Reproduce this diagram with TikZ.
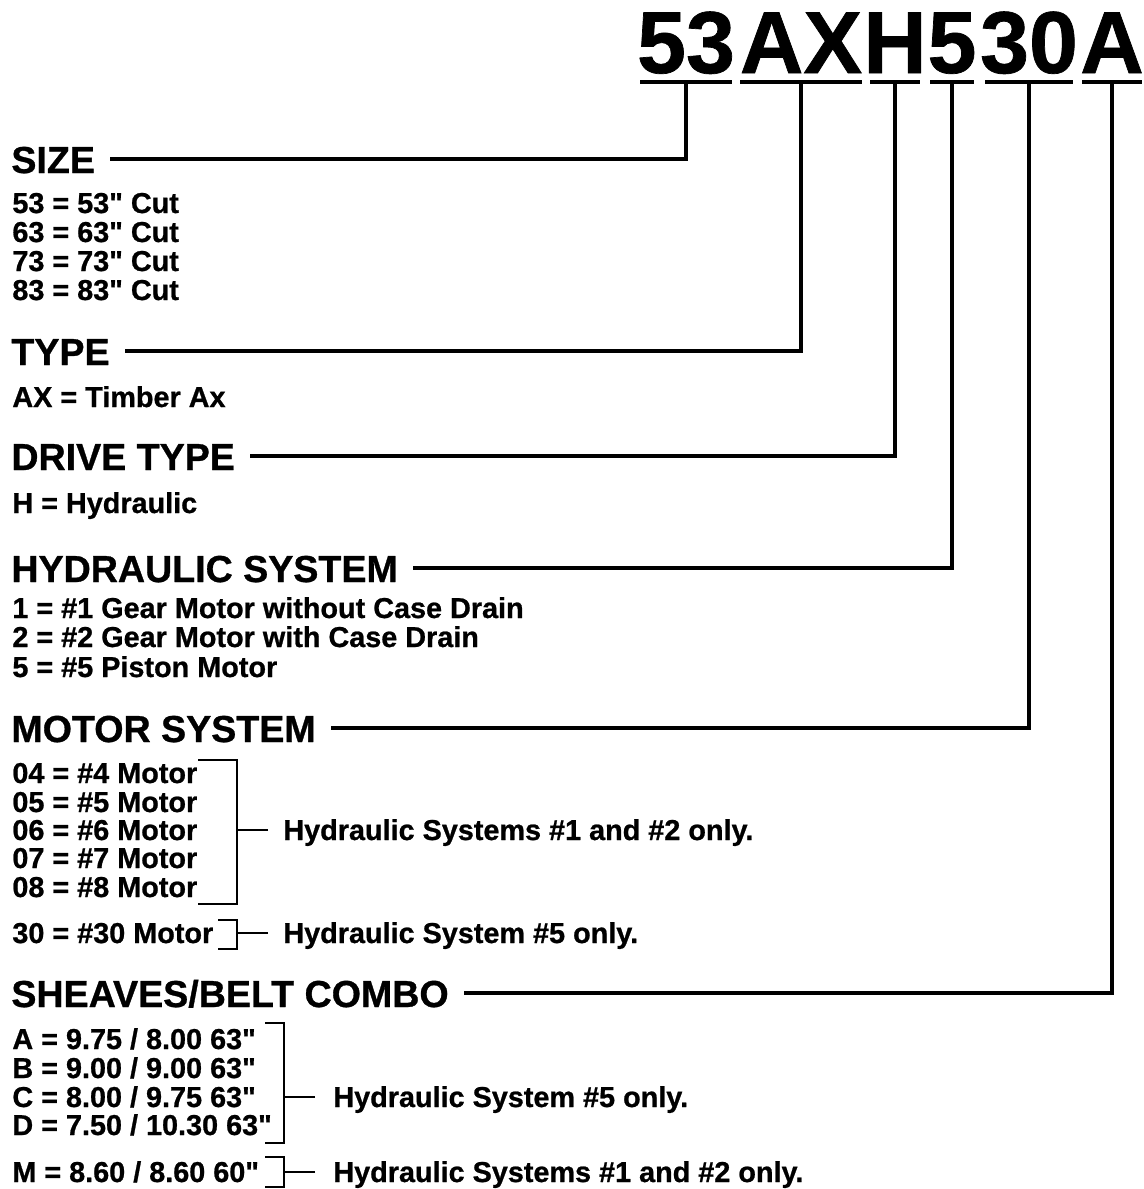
\documentclass[tikz,border=0pt]{standalone}
\usepackage{fontspec}
\setmainfont{Liberation Sans}[BoldFeatures={FakeBold=0.8}]
\usetikzlibrary{positioning, calc}
\newcommand\inch{\textquotedbl}
\tikzset{
  code/.style  = {font=\fontsize{44}{44}\selectfont\bfseries, inner sep=0pt, anchor=base},
  head/.style  = {font=\fontsize{18.8}{19}\selectfont\bfseries, inner sep=0pt, anchor=base west,
                  text height=13.6pt, text depth=0pt},
  item/.style  = {font=\fontsize{14.4}{14.5}\selectfont\bfseries, inner sep=0pt, anchor=base west,
                  text height=10pt, text depth=0pt},
  lead/.style  = {line width=2pt, line join=miter},
  uline/.style = {line width=2pt},
  brace/.style = {line width=1.3pt, line join=miter},
}

\begin{document}
\begin{tikzpicture}[x=0.5pt, y=-0.5pt]
  \useasboundingbox (0,0) rectangle (1144,1189);
  % model number, one node per field
  \foreach \n/\t/\x/\l/\r in {a/53/686/640/732, b/AX/801/740/862, c/H/895/870/920,
                              d/5/952/930/974, e/30/1029/985/1073, f/A/1112/1082/1142} {
    \node[code] (g\n) at (\x,73) {\t};
    \coordinate (u\n) at (\x,82);
    \draw[uline] (\l,82) -- (\r,82);
  }
  % field headings
  \node[head] (hsize)  at (11,173)  {SIZE};
  \node[head] (htype)  at (11,365)  {TYPE};
  \node[head] (hdrive) at (11,470)  {DRIVE TYPE};
  \node[head] (hhyd)   at (11,582)  {HYDRAULIC SYSTEM};
  \node[head] (hmotor) at (11,742)  {MOTOR SYSTEM};
  \node[head] (hsheave) at (11,1007) {SHEAVES/BELT COMBO};
  \draw[lead] ($(hsize.east)+(15,0)$)   -| (ua);
  \draw[lead] ($(htype.east)+(15,0)$)   -| (ub);
  \draw[lead] ($(hdrive.east)+(15,0)$)  -| (uc);
  \draw[lead] ($(hhyd.east)+(15,0)$)    -| (ud);
  \draw[lead] ($(hmotor.east)+(15,0)$)  -| (ue);
  \draw[lead] ($(hsheave.east)+(15,0)$) -| (uf);
  % option lists
  \foreach \i/\t/\y in {1/{53 = 53\inch{} Cut}/213, 2/{63 = 63\inch{} Cut}/242,
                        3/{73 = 73\inch{} Cut}/271, 4/{83 = 83\inch{} Cut}/300} {
    \node[item] (sz\i) at (12,\y) {\t};
  }
  \node[item] (ty1) at (12,407) {AX = Timber Ax};
  \node[item] (dr1) at (12,513) {H = Hydraulic};
  \foreach \i/\t/\y in {1/{1 = \#1 Gear Motor without Case Drain}/618,
                        2/{2 = \#2 Gear Motor with Case Drain}/647,
                        3/{5 = \#5 Piston Motor}/677} {
    \node[item] (hy\i) at (12,\y) {\t};
  }
  \foreach \i/\t/\y in {1/{04 = \#4 Motor}/783, 2/{05 = \#5 Motor}/812, 3/{06 = \#6 Motor}/840,
                        4/{07 = \#7 Motor}/868, 5/{08 = \#8 Motor}/897, 6/{30 = \#30 Motor}/943} {
    \node[item] (mo\i) at (12,\y) {\t};
  }
  \foreach \i/\t/\y in {1/{A = 9.75 / 8.00 63\inch}/1049, 2/{B = 9.00 / 9.00 63\inch}/1078,
                        3/{C = 8.00 / 9.75 63\inch}/1107, 4/{D = 7.50 / 10.30 63\inch}/1135,
                        5/{M = 8.60 / 8.60 60\inch}/1182} {
    \node[item] (sh\i) at (12,\y) {\t};
  }
  % brackets and notes
  \node[item] (nmo1) at (283,840)  {Hydraulic Systems \#1 and \#2 only.};
  \node[item] (nmo2) at (283,943)  {Hydraulic System \#5 only.};
  \node[item] (nsh1) at (333,1107) {Hydraulic System \#5 only.};
  \node[item] (nsh2) at (333,1182) {Hydraulic Systems \#1 and \#2 only.};
  \coordinate (bmo1) at (237,760);
  \coordinate (bmo2) at (237,920);
  \coordinate (bsh1) at (284,1023);
  \coordinate (bsh2) at (284,1157);
  \draw[brace] (198,760) -- (bmo1) -- (237,904) -- (198,904);
  \draw[brace] (218,920) -- (bmo2) -- (237,949) -- (218,949);
  \draw[brace] (265,1023) -- (bsh1) -- (284,1143) -- (265,1143);
  \draw[brace] (265,1157) -- (bsh2) -- (284,1187) -- (265,1187);
  \draw[brace] ([xshift=-7.5pt]nmo1.west) -- (nmo1.west -| bmo1);
  \draw[brace] ([xshift=-7.5pt]nmo2.west) -- (nmo2.west -| bmo2);
  \draw[brace] ([xshift=-9pt]nsh1.west) -- (nsh1.west -| bsh1);
  \draw[brace] ([xshift=-9pt]nsh2.west) -- (nsh2.west -| bsh2);
\end{tikzpicture}
\end{document}
